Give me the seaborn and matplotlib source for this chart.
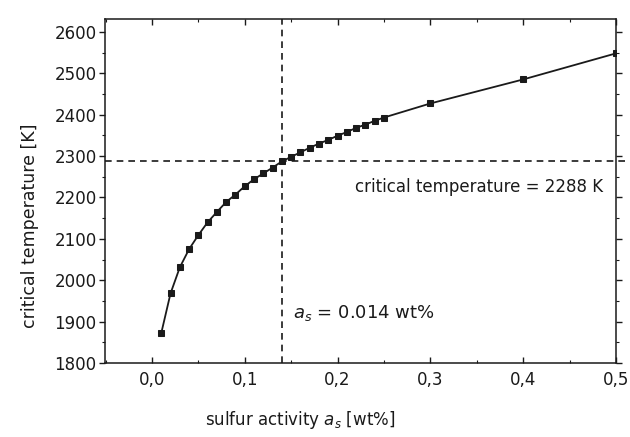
import matplotlib
matplotlib.use("Agg")
import matplotlib.pyplot as plt
import seaborn as sns
import pandas as pd
from matplotlib.ticker import MultipleLocator

# data
activity = [0.01, 0.02, 0.03, 0.04, 0.05, 0.06, 0.07, 0.08, 0.09, 0.10,
            0.11, 0.12, 0.13, 0.14, 0.15, 0.16, 0.17, 0.18, 0.19, 0.20,
            0.21, 0.22, 0.23, 0.24, 0.25, 0.30, 0.40, 0.50]
temperature = [1872, 1968, 2031, 2075, 2109, 2140, 2165, 2189, 2207, 2227,
               2244, 2258, 2272, 2287, 2298, 2309, 2320, 2330, 2339, 2349,
               2358, 2368, 2376, 2385, 2393, 2427, 2485, 2548]
crit_temp = 2288
crit_act = 0.14
x_ticks = [0.0, 0.1, 0.2, 0.3, 0.4, 0.5]
x_tick_labels = ["0,0", "0,1", "0,2", "0,3", "0,4", "0,5"]
y_ticks = [1800, 1900, 2000, 2100, 2200, 2300, 2400, 2500, 2600]

df = pd.DataFrame({"a": activity, "T": temperature})

sns.set_style("ticks")
plt.rcParams["font.family"] = ["DejaVu Sans"]

fig = plt.figure(figsize=(6.3, 4.37), dpi=100)
ax = fig.add_axes([105/630, 1 - 363/437, (616-105)/630, (363-19)/437])

sns.lineplot(data=df, x="a", y="T", ax=ax, color="#1a1a1a", linewidth=1.3,
             marker="s", markersize=5, markeredgecolor="#1a1a1a",
             markerfacecolor="#1a1a1a")

ax.set_xlim(-0.0506, 0.5)
ax.set_ylim(1800, 2631)

# dashed reference lines
ax.plot([-0.0506, 0.535], [crit_temp, crit_temp], linestyle=(0, (4, 3)),
        color="#1a1a1a", linewidth=1.2, clip_on=False)
ax.axvline(crit_act, linestyle=(0, (4, 3)), color="#1a1a1a", linewidth=1.2)

ax.set_xticks(x_ticks)
ax.set_xticklabels(x_tick_labels)
ax.set_yticks(y_ticks)
ax.xaxis.set_minor_locator(MultipleLocator(0.05))
ax.yaxis.set_minor_locator(MultipleLocator(50))

for s in ax.spines.values():
    s.set_visible(True)
    s.set_color("#1a1a1a")
    s.set_linewidth(1.1)

ax.tick_params(axis="both", which="major", labelsize=12, colors="#1a1a1a",
               length=4, width=1)
ax.tick_params(axis="both", which="minor", length=2.5, width=0.8, colors="#1a1a1a")
ax.tick_params(axis="x", which="both", direction="in", top=True, pad=6)
ax.tick_params(axis="y", which="both", direction="out", right=True, pad=2)

ax.set_xlabel("")
ax.set_ylabel("")
fig.text(30/630, 1 - 226/437, "critical temperature [K]", rotation=90,
         ha="center", va="center", fontsize=12.5, color="#1a1a1a")
fig.text(300/630, 1 - 420/437, r"sulfur activity $a_s$ [wt%]",
         ha="center", va="center", fontsize=12, color="#1a1a1a")

ax.text(0.486, 2226, "critical temperature = 2288 K", ha="right", va="center",
        fontsize=12, color="#1a1a1a")
ax.text(0.152, 1920, r"$a_s$ = 0.014 wt%", ha="left", va="center",
        fontsize=13, color="#1a1a1a")

fig.savefig("out.png", dpi=100, facecolor="white")
